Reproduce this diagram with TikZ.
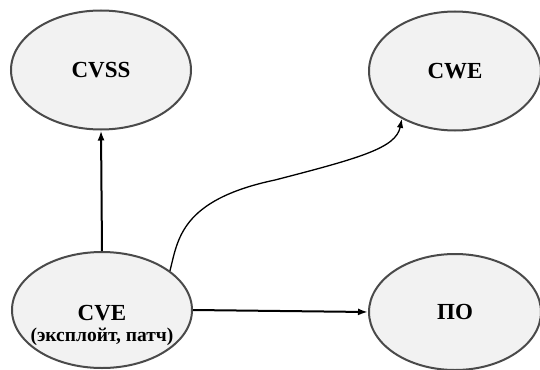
\documentclass[tikz,border=0pt]{standalone}
\usepackage{fontspec}
\setmainfont{Liberation Serif}
\usetikzlibrary{shapes.geometric,arrows.meta}
\definecolor{nodefill}{HTML}{F2F2F2}
\definecolor{nodeline}{HTML}{4A4A4A}
\tikzset{
  ent/.style={ellipse, draw=nodeline, line width=2pt, fill=nodefill,
    inner sep=0pt, font=\bfseries\fontsize{23}{25}\selectfont, align=center},
  big/.style={ent, minimum width=180pt, minimum height=119pt},
  txt/.style={inner sep=0pt, font=\bfseries\fontsize{23}{25}\selectfont, align=center},
  conn/.style={line width=2pt, -{Latex[length=10pt,width=7pt]}},
  thin/.style={line width=1.3pt, -{Latex[length=9pt,width=6.5pt]}}
}
\begin{document}
\begin{tikzpicture}[x=1pt,y=-1pt]
\useasboundingbox (0,0) rectangle (540,369);
\node[big] (cvss) at (101,70) {CVSS};
\node[big, minimum width=172pt] (cwe) at (455,71) {CWE};
\node[big, minimum height=116pt] (cve) at (102,310) {};
\node[txt] (cvetext) at (102,325) {CVE\\[-4pt]{\fontsize{19.5}{21}\selectfont(эксплойт, патч)}};
\node[big, minimum width=172pt, minimum height=116pt] (po) at (455,312) {ПО};
\draw[conn] (cve.north) -- (cvss.south);
\draw[conn] (cve.east) -- (po.west);
\coordinate (mid) at (275,180);
\draw[thin] (cve.30) .. controls (178,240) and (180,200) .. (mid)
  .. controls (360,158) and (396,148) .. (cwe.-138);
\end{tikzpicture}
\end{document}
